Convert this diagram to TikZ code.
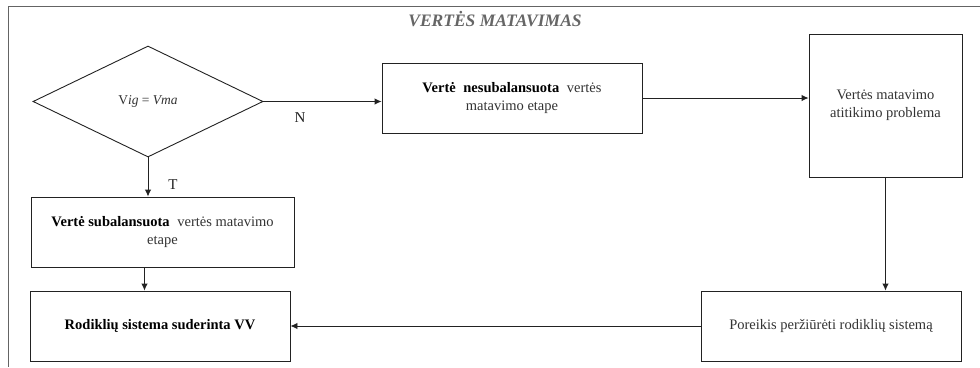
\documentclass[tikz,border=0pt]{standalone}
\usepackage{fontspec}
\setmainfont{Liberation Serif}
\usetikzlibrary{shapes.geometric,arrows.meta}
\definecolor{txt}{HTML}{333333}
\definecolor{ttl}{HTML}{666666}
\definecolor{ln}{HTML}{222222}
\begin{document}
\begin{tikzpicture}[x=1pt,y=-1pt,
  box/.style={draw=ln,line width=0.9pt,inner sep=0pt,align=center,text=txt,font=\fontsize{14.5}{18}\selectfont},
  arr/.style={draw=ln,line width=0.9pt,-{Latex[length=7pt,width=6.5pt]}},
  lbl/.style={font=\fontsize{15}{16}\selectfont,text=ln}]
\useasboundingbox (0,0) rectangle (980,367);
\fill[white] (0,0) rectangle (980,367);
\coordinate (fa) at (8,6);
\coordinate (fb) at (980,6);
\coordinate (fc) at (8,367);
\draw[ln!70,line width=0.8pt] (fb) -- (fa) -- (fc);
\node[font=\fontsize{17.5}{19}\selectfont\bfseries\itshape,text=ttl] (title) at (495,19) {VERTĖS MATAVIMAS};
\node[draw=ln,line width=0.9pt,diamond,minimum width=230pt,minimum height=111pt,inner sep=0pt,text=txt,font=\fontsize{13.5}{15}\selectfont] (d) at (148,101.5) {V\textit{ig} = \textit{Vma}};
\node[box,minimum width=260pt,minimum height=70pt] (b1) at (512,98) {\textcolor{black}{\textbf{Vertė\hspace{4pt} nesubalansuota}}\hspace{4pt} vertės\\matavimo etape};
\node[box,minimum width=153pt,minimum height=143pt] (b3) at (885.5,105.5) {Vertės matavimo\\atitikimo problema};
\node[box,minimum width=263pt,minimum height=70pt] (b2) at (162.5,232) {\textcolor{black}{\textbf{Vertė subalansuota}}\hspace{4pt} vertės matavimo\\etape};
\node[box,minimum width=260pt,minimum height=70pt] (b4) at (831,326) {Poreikis peržiūrėti rodiklių sistemą};
\node[box,minimum width=260pt,minimum height=70pt] (b5) at (160,326) {\textcolor{black}{\textbf{Rodiklių sistema suderinta VV}}};
\draw[arr] (d.east) -- (d.east -| b1.west);
\node[lbl] (n) at (300,118) {N};
\draw[arr] (b1.east) -- (b1.east -| b3.west);
\draw[arr] (b3.south) -- (b3.south |- b4.north);
\draw[arr] (d.south) -- (d.south |- b2.north);
\node[lbl] (t) at (173,185) {T};
\draw[arr] ([xshift=-18pt]b2.south) -- ([xshift=-18pt]b2.south |- b5.north);
\draw[arr] (b4.west) -- (b5.east);
\end{tikzpicture}
\end{document}
